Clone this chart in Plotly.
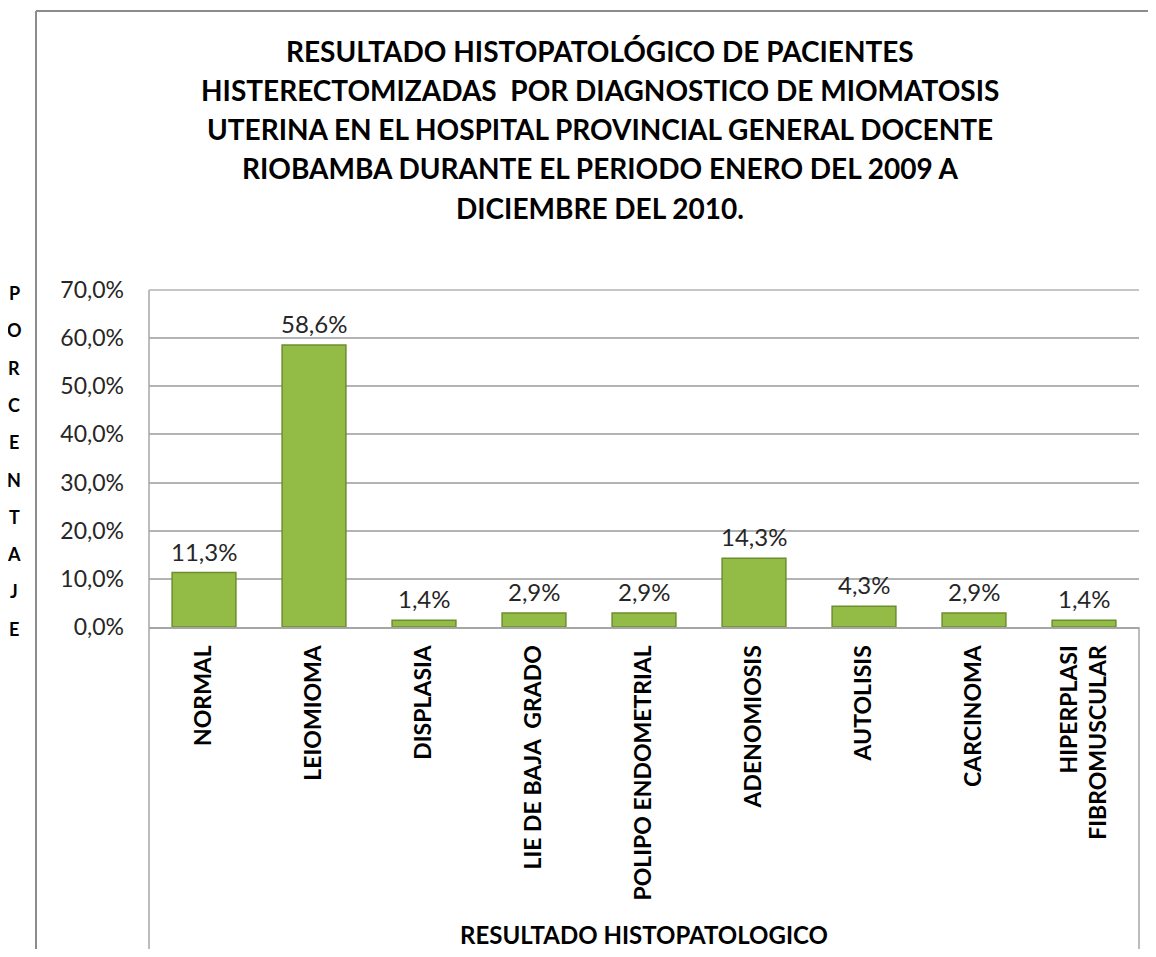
import plotly.graph_objects as go

categories = ["NORMAL", "LEIOMIOMA", "DISPLASIA", "LIE DE BAJA  GRADO", "POLIPO ENDOMETRIAL",
              "ADENOMIOSIS", "AUTOLISIS", "CARCINOMA", "HIPERPLASI<br>FIBROMUSCULAR"]
values = [11.3, 58.6, 1.4, 2.9, 2.9, 14.3, 4.3, 2.9, 1.4]
labels = ["11,3%", "58,6%", "1,4%", "2,9%", "2,9%", "14,3%", "4,3%", "2,9%", "1,4%"]
yticks = [0, 10, 20, 30, 40, 50, 60, 70]
ytick_text = ["0,0%", "10,0%", "20,0%", "30,0%", "40,0%", "50,0%", "60,0%", "70,0%"]
title_lines = ["RESULTADO HISTOPATOLÓGICO DE PACIENTES",
               "HISTERECTOMIZADAS  POR DIAGNOSTICO DE MIOMATOSIS",
               "UTERINA EN EL HOSPITAL PROVINCIAL GENERAL DOCENTE",
               "RIOBAMBA DURANTE EL PERIODO ENERO DEL 2009 A",
               "DICIEMBRE DEL 2010."]
ytitle = "PORCENTAJE"
xtitle = "RESULTADO HISTOPATOLOGICO"

OFF = 8  # default page body margin
W, H = 1140, 941
# target plot area in page pixels
PL, PR, PT, PB = 149, 1139, 290, 627
L, R, T, B = PL - OFF, PR - OFF, PT - OFF, PB - OFF
FONT = "Lato"


def px(x):
    return (x - PL) / (PR - PL)


def py(y):
    return (PB - y) / (PB - PT)


fig = go.Figure(go.Bar(
    x=categories, y=values,
    marker=dict(color="#93bc47", line=dict(color="#6d8d2e", width=1.5)),
    width=0.58,
))

annotations = []
for c, v, t in zip(categories, values, labels):
    annotations.append(dict(text=t, x=c, y=v, xref="x", yref="y", xanchor="center", yanchor="bottom",
                            yshift=5, showarrow=False,
                            font=dict(family=FONT, size=24, color="#262626")))
for i, line in enumerate(title_lines):
    yc = [51, 90, 129, 168, 208][i]
    annotations.append(dict(text="<b>%s</b>" % line, x=px(600), y=py(yc), xref="paper", yref="paper",
                            xanchor="center", yanchor="middle", showarrow=False,
                            font=dict(family=FONT, size=28, color="#000")))
for i, ch in enumerate(ytitle):
    annotations.append(dict(text="<b>%s</b>" % ch, x=px(14), y=py(293 + i * 37.3), xref="paper", yref="paper",
                            xanchor="center", yanchor="middle", showarrow=False,
                            font=dict(family=FONT, size=18, color="#000")))
annotations.append(dict(text="<b>%s</b>" % xtitle, x=0.5, y=py(934), xref="paper", yref="paper",
                        xanchor="center", yanchor="middle", showarrow=False,
                        font=dict(family=FONT, size=24, color="#000")))

shapes = [
    # outer chart border (left + top)
    dict(type="line", xref="paper", yref="paper", x0=px(36), x1=px(1170), y0=py(11), y1=py(11),
         line=dict(color="#8c8c8c", width=2)),
    dict(type="line", xref="paper", yref="paper", x0=px(36), x1=px(36), y0=py(11), y1=py(960),
         line=dict(color="#8c8c8c", width=2)),
    # plot area border extending below the axis
    dict(type="line", xref="paper", yref="paper", x0=0, x1=0, y0=1, y1=py(951),
         line=dict(color="#a6a6a6", width=1.5)),
    dict(type="line", xref="paper", yref="paper", x0=1, x1=1, y0=0, y1=py(951),
         line=dict(color="#a6a6a6", width=1.5)),
    dict(type="line", xref="paper", yref="paper", x0=0, x1=1, y0=1, y1=1,
         line=dict(color="#b3b3b3", width=1.5)),
]

fig.update_layout(
    width=W, height=H,
    margin=dict(l=L, r=W - R, t=T, b=H - B, pad=0),
    paper_bgcolor="white", plot_bgcolor="white",
    showlegend=False, bargap=0.42,
    annotations=annotations, shapes=shapes,
    font=dict(family=FONT, color="#262626"),
)
fig.update_yaxes(range=[0, 70], tickvals=yticks, ticktext=ytick_text,
                 showgrid=True, gridcolor="#b3b3b3", gridwidth=1.5,
                 zeroline=False, showline=False, ticks="",
                 ticklabelstandoff=24, tickfont=dict(family=FONT, size=23, color="#262626"))
fig.update_xaxes(tickangle=-90, showline=True, linecolor="#a6a6a6", linewidth=2,
                 ticks="", ticklabelstandoff=7,
                 tickfont=dict(family=FONT, size=23, color="#000"),
                 tickprefix="<b>", ticksuffix="</b>")

fig.write_html("out.html")
